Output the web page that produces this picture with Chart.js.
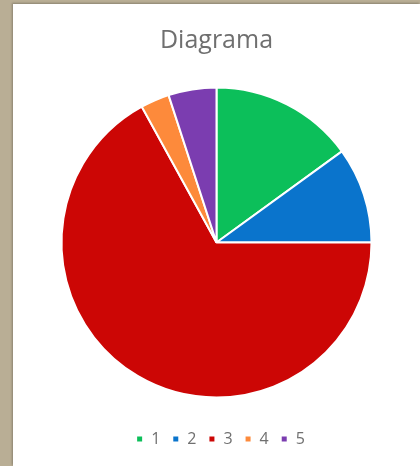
<!DOCTYPE html>
<html>
<head>
<meta charset="utf-8">
<script src="https://cdn.jsdelivr.net/npm/chart.js@4"></script>
<style>
  html, body { margin: 0; padding: 0; }
  body { width: 420px; height: 466px; background: #b9ae95; position: relative; overflow: hidden; }
  #panel { position: absolute; left: 13px; top: 4px; width: 407px; height: 462px; background: #ffffff; box-shadow: -1px -1px 2px rgba(0,0,0,0.25); }
  canvas { display: block; }
</style>
</head>
<body>
<div id="panel"><canvas id="c" width="407" height="462"></canvas></div>
<script>
const titleText = "Diagrama";
const categories = ["1", "2", "3", "4", "5"];
const values = [15, 10, 67, 3, 5];
const colors = ["#0cbf5a", "#0a74cc", "#cc0605", "#fd8a3b", "#7b3db0"];

const legendShift = {
  id: "legendShift",
  afterLayout(chart) {
    if (chart.legend) { chart.legend.left += 4; chart.legend.right += 4; }
  }
};

new Chart(document.getElementById("c"), {
  type: "pie",
  data: {
    labels: categories,
    datasets: [{
      data: values,
      backgroundColor: colors,
      borderColor: "#ffffff",
      borderWidth: 2,
      radius: 155
    }]
  },
  options: {
    responsive: false,
    animation: false,
    layout: { padding: { top: 0, bottom: 9, left: 0, right: 0 } },
    plugins: {
      title: {
        display: true,
        text: titleText,
        color: "#6f6f6f",
        font: { family: "Open Sans", size: 25, weight: "normal" },
        padding: { top: 22, bottom: 10 }
      },
      legend: {
        position: "bottom",
        labels: {
          color: "#707070",
          font: { family: "Open Sans", size: 16 },
          usePointStyle: true,
          pointStyle: "rect",
          boxWidth: 7,
          boxHeight: 7,
          padding: 12
        }
      },
      tooltip: { enabled: false }
    }
  },
  plugins: [legendShift]
});
</script>
</body>
</html>
